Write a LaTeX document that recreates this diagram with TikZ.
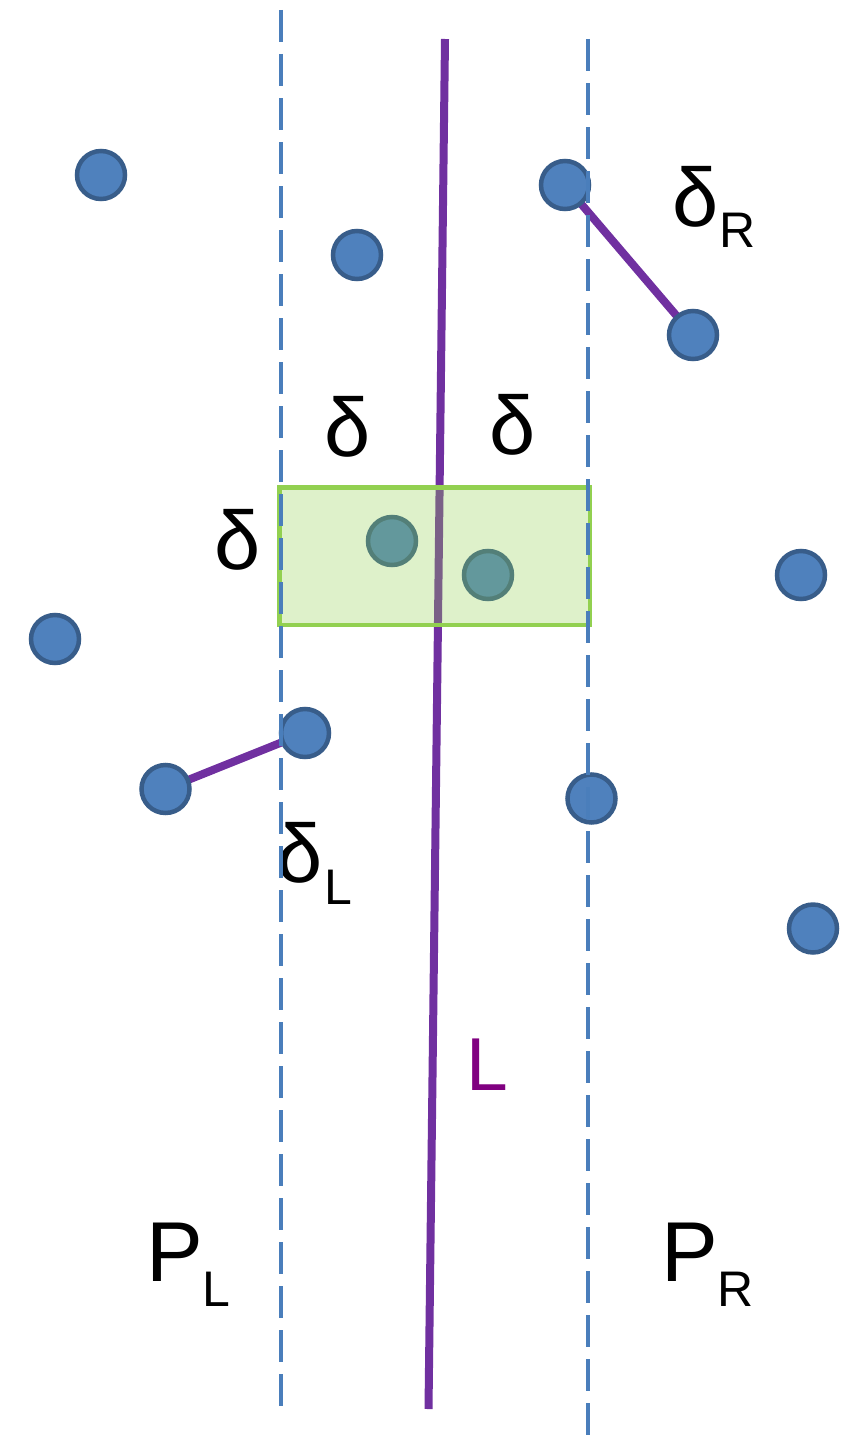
\documentclass[tikz,border=0pt]{standalone}
\usepackage{fontspec}
\setmainfont{Liberation Sans}
\usetikzlibrary{backgrounds}
\definecolor{dotfill}{HTML}{4F81BD}
\definecolor{dotedge}{HTML}{385D8A}
\definecolor{dashblue}{HTML}{4A7EBB}
\definecolor{lpurple}{HTML}{7030A0}
\definecolor{lgreen}{HTML}{92D050}
\definecolor{labpurple}{HTML}{800080}
\tikzset{
  pt/.style={circle, fill=dotfill, draw=dotedge, line width=4.5pt, minimum size=48pt, inner sep=0pt},
  splitline/.style={draw=dashblue, line width=3.8pt, dash pattern=on 32pt off 12pt},
  purpleline/.style={draw=lpurple, line width=8pt},
  biglab/.style={inner sep=0pt, font=\fontsize{83}{83}\selectfont},
  sublab/.style={inner sep=0pt, font=\fontsize{50}{50}\selectfont},
  plab/.style={inner sep=0pt, font=\fontsize{85}{85}\selectfont},
  strip/.style={draw=lgreen, line width=4.5pt, fill=lgreen, fill opacity=0.3}
}
\begin{document}
\begin{tikzpicture}[x=1pt,y=-1pt]
\useasboundingbox (0,0) rectangle (865,1437);
% dividing line L
\coordinate (Ltop) at (445,39);
\coordinate (Lbot) at (428.5,1409);
\draw[purpleline] (Ltop) -- (Lbot);
% points
\node[pt] (p1) at (101,175) {};
\node[pt] (p2) at (357,255) {};
\node[pt] (p3) at (565,185) {};
\node[pt] (p4) at (693,335) {};
\node[pt] (p5) at (801,575) {};
\node[pt] (p6) at (55,639) {};
\node[pt] (p7) at (305,733) {};
\node[pt] (p8) at (165.5,789) {};
\node[pt] (p9) at (591.5,798.5) {};
\node[pt] (p10) at (813,928.5) {};
\node[pt] (p11) at (392,541) {};
\node[pt] (p12) at (488,575) {};
\begin{pgfonlayer}{background}
\draw[purpleline] (p3.center) -- (p4.center);
\draw[purpleline] (p8.center) -- (p7.center);
\end{pgfonlayer}
% strip rectangle
\draw[strip] (279.5,487.5) rectangle (590,625);
% labels
\node[biglab] (d1) at (347.5,426.5) {δ};
\node[biglab] (d2) at (512.5,425) {δ};
\node[biglab] (d3) at (237.5,540) {δ};
\node[biglab] (dR) at (696,196.5) {δ};
\node[sublab] (dRs) at (737.5,230) {R};
\node[biglab] (dL) at (300,852.5) {δ};
\node[sublab] (dLs) at (338.5,887) {L};
\node[inner sep=0pt, font=\fontsize{75}{75}\selectfont, text=labpurple] (Llab) at (487,1065) {L};
\node[plab] (PL) at (174.5,1252.5) {P};
\node[sublab] (PLs) at (216,1289) {L};
\node[plab] (PR) at (690,1252.5) {P};
\node[sublab] (PRs) at (735.5,1289.5) {R};
% dashed strip boundaries
\coordinate (Atop) at (281,10);
\coordinate (Abot) at (281,1406);
\coordinate (Btop) at (588,39);
\coordinate (Bbot) at (588,1437);
\draw[splitline] (Atop) -- (Abot);
\draw[splitline] (Btop) -- (Bbot);
\end{tikzpicture}
\end{document}
